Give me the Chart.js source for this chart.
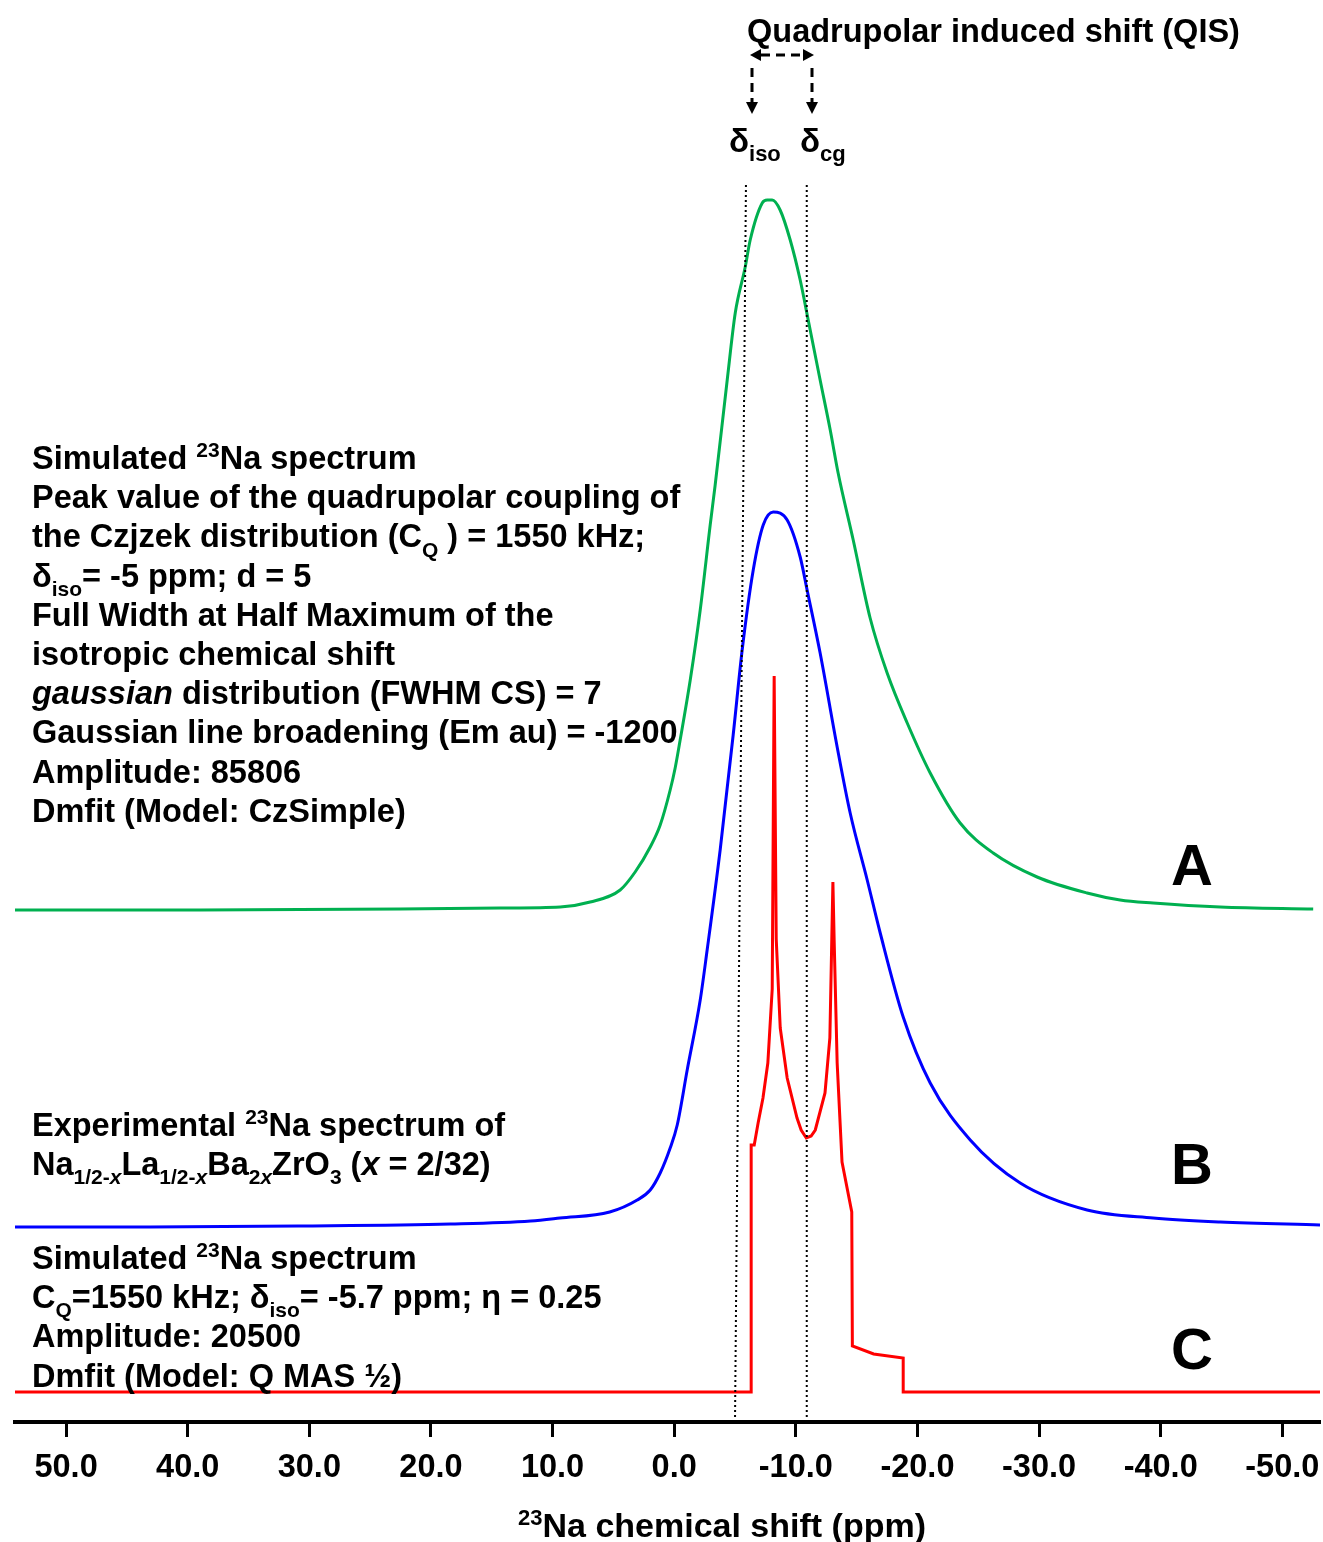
<!DOCTYPE html>
<html>
<head>
<meta charset="utf-8">
<script src="https://cdn.jsdelivr.net/npm/chart.js@4.4.1/dist/chart.umd.min.js"></script>
<style>
  body { margin: 0; background: #fff; }
  #wrap { width: 1323px; height: 1542px; }
</style>
</head>
<body>
<div id="wrap"><canvas id="nmr" width="1323" height="1542"></canvas></div>
<script>
// x values: 23Na chemical shift (ppm); y values: intensity above each trace's own baseline
var ppmTicks = [50, 40, 30, 20, 10, 0, -10, -20, -30, -40, -50];

var ppmA = [54.2, 38.97, 22.53, 14.31, 9.37, 6.91, 4.44, 3.21, 1.97, 1.15, 0.33, -0.08, -0.49, -1.32, -2.14, -2.96, -3.37,
            -4.36, -5.02, -5.84, -6.25, -7.24, -7.65, -8.06, -8.71, -9.54, -10.36, -11.02, -12.0, -12.83, -13.48, -14.72,
            -16.11, -17.51, -19.16, -21.05, -23.51, -26.23, -29.84, -33.95, -36.67, -39.38, -44.89, -52.54];
var intA = [0, 0, 1, 2, 3, 8, 20, 38, 63, 85, 120, 142, 170, 230, 300, 385, 425,
            530, 597, 643, 670, 707, 710, 710, 700, 670, 630, 590, 530, 480, 437, 370,
            292, 237, 187, 137, 87, 57, 33, 17, 10, 7, 3, 1];

var ppmB = [54.2, 43.1, 30.8, 18.4, 11.8, 9.4, 5.3, 3.04, 1.97, 1.15, 0.33, -0.25, -1.07, -2.14, -2.71, -3.78, -4.85,
            -5.59, -6.5, -7.32, -8.14, -9.29, -10.36, -10.93, -12.0, -13.4, -14.47, -15.87, -16.94, -18.83, -21.05,
            -24.34, -28.45, -33.95, -39.38, -44.89, -53.1];
var intB = [0, 0, 1, 3, 6, 9, 15, 27, 37, 54, 79, 102, 157, 227, 277, 377, 492,
            577, 657, 702, 715, 707, 670, 637, 574, 480, 414, 347, 294, 210, 144,
            87, 44, 17, 9, 5, 2];

var ppmC = [54.2, -6.33, -6.33, -6.58, -6.9, -7.3, -7.7, -8.06, -8.22, -8.39, -8.72, -9.29, -10.1, -10.44, -10.86, -11.26,
            -11.6, -12.4, -12.8, -13.05, -13.15, -13.4, -13.8, -14.6, -14.65, -16.4, -18.83, -18.83, -53.1];
var intC = [0, 0, 247, 247, 269, 294, 329, 403, 716, 453, 364, 314, 274, 262, 254, 256,
            262, 299, 354, 510, 453, 329, 230, 180, 46, 38, 34, 0, 0];

// stacking offsets of the three spectra
var offsetA = 512, offsetB = 195, offsetC = 30;

// reference shifts marked by dotted lines (the iso line is drawn slightly slanted in the original)
var deltaIsoTop = -5.9, deltaIsoBottom = -5.0;
var deltaCg = -10.9;
var markerTop = 1237;

function pts(xs, ys, off) {
  return xs.map(function (x, i) { return { x: x, y: ys[i] + off }; });
}

var FONT = '"Liberation Sans", Arial, sans-serif';

function drawRich(ctx, x, y, parts, size) {
  var cx = x;
  parts.forEach(function (p) {
    var st = p[1] || '';
    var small = st.indexOf('sub') >= 0 || st.indexOf('sup') >= 0;
    var fs = small ? Math.round(size * 0.66) : size;
    var dy = 0;
    if (st.indexOf('sub') >= 0) dy = size * 0.28;
    if (st.indexOf('sup') >= 0) dy = -size * 0.36;
    ctx.font = (st.indexOf('it') >= 0 ? 'italic ' : '') + 'bold ' + fs + 'px ' + FONT;
    ctx.fillText(p[0], cx, y + dy);
    cx += ctx.measureText(p[0]).width;
  });
  return cx - x;
}

var blockA = [
  [['Simulated '], ['23', 'sup'], ['Na spectrum']],
  [['Peak value of the quadrupolar coupling of']],
  [['the Czjzek distribution (C'], ['Q', 'sub'], [' ) = 1550 kHz;']],
  [['\u03b4'], ['iso', 'sub'], ['= -5 ppm; d = 5']],
  [['Full Width at Half Maximum of the']],
  [['isotropic chemical shift']],
  [['gaussian', 'it'], [' distribution (FWHM CS) = 7']],
  [['Gaussian line broadening (Em au) = -1200']],
  [['Amplitude: 85806']],
  [['Dmfit (Model: CzSimple)']]
];
var blockB = [
  [['Experimental '], ['23', 'sup'], ['Na spectrum of']],
  [['Na'], ['1/2-', 'sub'], ['x', 'subit'], ['La'], ['1/2-', 'sub'], ['x', 'subit'], ['Ba'], ['2', 'sub'], ['x', 'subit'],
   ['ZrO'], ['3', 'sub'], [' ('], ['x', 'it'], [' = 2/32)']]
];
var blockC = [
  [['Simulated '], ['23', 'sup'], ['Na spectrum']],
  [['C'], ['Q', 'sub'], ['=1550 kHz; \u03b4'], ['iso', 'sub'], ['= -5.7 ppm; \u03b7 = 0.25']],
  [['Amplitude: 20500']],
  [['Dmfit (Model: Q MAS \u00bd)']]
];

function dashedLine(ctx, x1, y1, x2, y2) {
  ctx.save();
  ctx.setLineDash([9, 6]);
  ctx.lineWidth = 3;
  ctx.beginPath();
  ctx.moveTo(x1, y1);
  ctx.lineTo(x2, y2);
  ctx.stroke();
  ctx.restore();
}
function arrowHead(ctx, x, y, dir) {
  ctx.beginPath();
  if (dir === 'l') { ctx.moveTo(x, y); ctx.lineTo(x + 11, y - 6); ctx.lineTo(x + 11, y + 6); }
  if (dir === 'r') { ctx.moveTo(x, y); ctx.lineTo(x - 11, y - 6); ctx.lineTo(x - 11, y + 6); }
  if (dir === 'd') { ctx.moveTo(x, y); ctx.lineTo(x - 6, y - 12); ctx.lineTo(x + 6, y - 12); }
  ctx.closePath();
  ctx.fill();
}

var textPlugin = {
  id: 'annotations',
  afterDraw: function (chart) {
    var ctx = chart.ctx;
    ctx.save();
    ctx.fillStyle = '#000';
    ctx.strokeStyle = '#000';
    ctx.textBaseline = 'alphabetic';
    ctx.textAlign = 'left';

    var size = 32.5, lh = 39.2;
    blockA.forEach(function (l, i) { drawRich(ctx, 32, 469 + i * lh, l, size); });
    blockB.forEach(function (l, i) { drawRich(ctx, 32, 1136 + i * lh, l, size); });
    blockC.forEach(function (l, i) { drawRich(ctx, 32, 1269 + i * lh, l, size); });

    // QIS annotation
    drawRich(ctx, 747, 42, [['Quadrupolar induced shift (QIS)']], 32.5);
    dashedLine(ctx, 761, 55, 803, 55);
    arrowHead(ctx, 750, 55, 'l');
    arrowHead(ctx, 814, 55, 'r');
    dashedLine(ctx, 752, 68, 752, 104);
    dashedLine(ctx, 812, 68, 812, 104);
    arrowHead(ctx, 752, 114, 'd');
    arrowHead(ctx, 812, 114, 'd');
    drawRich(ctx, 729, 152, [['\u03b4'], ['iso', 'sub']], 33);
    drawRich(ctx, 800, 152, [['\u03b4'], ['cg', 'sub']], 33);

    // axis title, with superscript mass number
    ctx.font = 'bold 34px ' + FONT;
    var w1 = ctx.measureText('Na chemical shift (ppm)').width;
    ctx.font = 'bold 22px ' + FONT;
    var w0 = ctx.measureText('23').width;
    drawRich(ctx, 722 - (w0 + w1) / 2, 1537, [['23', 'sup'], ['Na chemical shift (ppm)']], 34);

    // trace letters
    ctx.textAlign = 'center';
    ctx.textBaseline = 'middle';
    ctx.font = 'bold 58px ' + FONT;
    ctx.fillText('A', 1192, 869);
    ctx.fillText('B', 1192, 1168);
    ctx.fillText('C', 1192, 1353);
    ctx.restore();
  }
};

new Chart(document.getElementById('nmr').getContext('2d'), {
  type: 'line',
  data: {
    datasets: [
      { data: [{ x: deltaIsoBottom, y: 0 }, { x: deltaIsoTop, y: markerTop }], borderColor: '#000', borderWidth: 2, borderDash: [2, 3] },
      { data: [{ x: deltaCg, y: 0 }, { x: deltaCg, y: markerTop }], borderColor: '#000', borderWidth: 2, borderDash: [2, 3] },
      { label: 'A', data: pts(ppmA, intA, offsetA), borderColor: '#00b050', borderWidth: 3, cubicInterpolationMode: 'monotone' },
      { label: 'B', data: pts(ppmB, intB, offsetB), borderColor: '#0000ff', borderWidth: 3, cubicInterpolationMode: 'monotone' },
      { label: 'C', data: pts(ppmC, intC, offsetC), borderColor: '#ff0000', borderWidth: 3, tension: 0 }
    ]
  },
  options: {
    responsive: false,
    animation: false,
    devicePixelRatio: 1,
    layout: { padding: { left: 15, right: 3, top: 0, bottom: 42 } },
    elements: { point: { radius: 0 } },
    plugins: { legend: { display: false }, tooltip: { enabled: false } },
    scales: {
      x: {
        type: 'linear',
        reverse: true,
        min: -53.1,
        max: 54.2,
        afterBuildTicks: function (scale) {
          scale.ticks = ppmTicks.map(function (v) { return { value: v }; });
        },
        afterFit: function (scale) {
          // keep the axis running to the canvas edges even where end labels overhang
          scale.paddingLeft = 0;
          scale.paddingRight = 0;
        },
        grid: { drawOnChartArea: false, drawTicks: true, tickLength: 15, tickWidth: 3, tickColor: '#000' },
        border: { display: true, color: '#000', width: 4 },
        ticks: {
          color: '#000',
          padding: 12,
          maxRotation: 0,
          font: { family: FONT, size: 32.5, weight: 'bold' },
          callback: function (v) { return Number(v).toFixed(1); }
        }
      },
      y: { display: false, min: 0, max: 1422 }
    }
  },
  plugins: [textPlugin]
});
</script>
</body>
</html>
